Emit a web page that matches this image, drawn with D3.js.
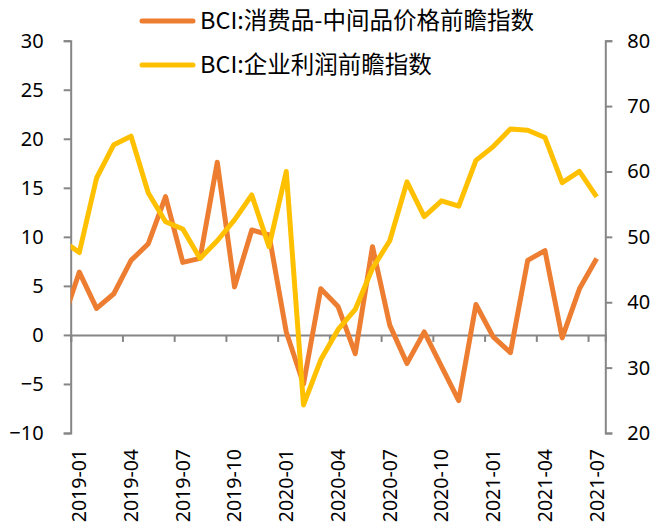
<!DOCTYPE html>
<html>
<head>
  <meta charset="utf-8">
  <title>BCI</title>
  <script src="https://d3js.org/d3.v7.min.js"></script>
  <style>
    body { margin: 0; background: #fff; }
    text { font-family: "Noto Sans", "Noto Sans CJK SC", sans-serif; fill: #000; }
  </style>
</head>
<body>
  <div id="chart"></div>

  <script>
    // months, starting one month before the axis (first point is clipped)
    const months = ['2018-12',
      '2019-01','2019-02','2019-03','2019-04','2019-05','2019-06','2019-07','2019-08','2019-09','2019-10','2019-11','2019-12',
      '2020-01','2020-02','2020-03','2020-04','2020-05','2020-06','2020-07','2020-08','2020-09','2020-10','2020-11','2020-12',
      '2021-01','2021-02','2021-03','2021-04','2021-05','2021-06','2021-07'];

    // BCI:消费品-中间品价格前瞻指数 (left axis)
    const priceIndex = [1.2,
      6.4, 2.7, 4.2, 7.6, 9.3, 14.1, 7.4, 7.8, 17.6, 4.9, 10.7, 10.2,
      0.3, -5.0, 4.7, 2.9, -1.9, 9.0, 1.0, -2.9, 0.3, -3.2, -6.7, 3.1,
      -0.2, -1.8, 7.6, 8.6, -0.3, 4.7, 7.8];

    // BCI:企业利润前瞻指数 (right axis)
    const profitIndex = [49.5,
      47.6, 59.0, 64.1, 65.4, 56.7, 52.3, 51.2, 46.7, 49.4, 52.6, 56.4, 48.5,
      60.0, 24.3, 31.2, 35.8, 38.9, 45.2, 49.4, 58.4, 53.1, 55.5, 54.7, 61.7,
      63.8, 66.5, 66.3, 65.2, 58.3, 60.0, 56.1];

    const tickMonths = ['2019-01','2019-04','2019-07','2019-10','2020-01','2020-04',
      '2020-07','2020-10','2021-01','2021-04','2021-07'];
    const leftTicks = [-10, -5, 0, 5, 10, 15, 20, 25, 30];
    const rightTicks = [20, 30, 40, 50, 60, 70, 80];

    const seriesNames = ['BCI:消费品-中间品价格前瞻指数', 'BCI:企业利润前瞻指数'];
    const colors = ['#ED7D31', '#FFC000'];

    const width = 669, height = 529;
    const plotLeft = 70.7, plotRight = 605.3, plotTop = 40.7, plotBottom = 433;
    const axisColor = '#868686';

    const svg = d3.select('#chart').append('svg')
      .attr('width', width)
      .attr('height', height);

    // month index relative to 2019-01; point sits in the middle of its month
    const monthIndex = m => months.indexOf(m) - 1;
    const x = d3.scaleLinear().domain([0, 31]).range([plotLeft, plotRight]);
    const yL = d3.scaleLinear().domain([-10, 30]).range([plotBottom, plotTop]);
    const yR = d3.scaleLinear().domain([20, 80]).range([plotBottom, plotTop]);

    svg.append('clipPath').attr('id', 'plot')
      .append('rect')
      .attr('x', plotLeft).attr('y', plotTop - 10)
      .attr('width', plotRight - plotLeft).attr('height', plotBottom - plotTop + 20);

    // left axis
    const gl = svg.append('g')
      .attr('transform', `translate(${plotLeft},0)`)
      .call(d3.axisLeft(yL).tickValues(leftTicks).tickSize(7).tickPadding(20));
    // right axis
    const gr = svg.append('g')
      .attr('transform', `translate(${plotRight},0)`)
      .call(d3.axisRight(yR).tickValues(rightTicks).tickSize(7).tickPadding(15));
    // x axis line on zero with ticks pointing down
    const gx = svg.append('g')
      .attr('transform', `translate(0,${yL(0)})`)
      .call(d3.axisBottom(x).tickValues(tickMonths.map(monthIndex)).tickSize(7).tickFormat(''));

    [gl, gr, gx].forEach(g => {
      g.select('.domain').attr('stroke', axisColor).attr('stroke-width', 2);
      g.selectAll('.tick line').attr('stroke', axisColor).attr('stroke-width', 2);
    });
    gl.selectAll('.tick text').style('font-size', '20px').attr('fill', '#000');
    gr.selectAll('.tick text').style('font-size', '20px').attr('fill', '#000');

    // rotated month labels at the bottom
    svg.append('g').selectAll('text')
      .data(tickMonths)
      .join('text')
      .attr('transform', d => `translate(${x(monthIndex(d) + 0.5)},449) rotate(-90)`)
      .attr('text-anchor', 'end')
      .attr('dy', '0.35em')
      .style('font-size', '19.5px')
      .text(d => d);

    // lines
    const seriesData = [
      { values: priceIndex, y: yL },
      { values: profitIndex, y: yR }
    ];
    seriesData.forEach((s, i) => {
      const line = d3.line()
        .x((d, j) => x(monthIndex(months[j]) + 0.5))
        .y(d => s.y(d));
      svg.append('path')
        .datum(s.values)
        .attr('clip-path', 'url(#plot)')
        .attr('fill', 'none')
        .attr('stroke', colors[i])
        .attr('stroke-width', 5)
        .attr('stroke-linejoin', 'round')
        .attr('d', line);
    });

    // legend
    const legend = svg.append('g').selectAll('g')
      .data(seriesNames)
      .join('g')
      .attr('transform', (d, i) => `translate(142,${21 + i * 44})`);
    legend.append('line')
      .attr('x1', 0).attr('x2', 51)
      .attr('stroke', (d, i) => colors[i])
      .attr('stroke-width', 5)
      .attr('stroke-linecap', 'round');
    legend.append('text')
      .attr('x', 58)
      .attr('dy', '0.35em')
      .style('font-family', '"Noto Sans CJK SC", sans-serif')
      .style('font-size', '23.5px')
      .text(d => d);
  </script>
</body>
</html>
